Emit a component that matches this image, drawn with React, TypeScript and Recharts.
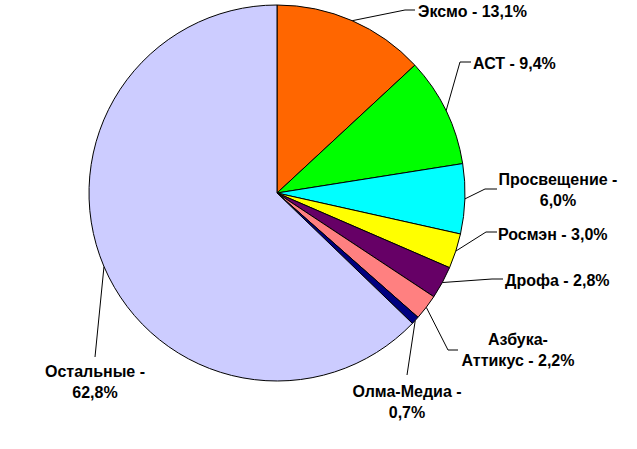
import { PieChart, Pie, Cell } from "recharts";

const publishers = [
    "Эксмо",
    "АСТ",
    "Просвещение",
    "Росмэн",
    "Дрофа",
    "Азбука-Аттикус",
    "Олма-Медиа",
    "Остальные",
];
const shares = [13.1, 9.4, 6.0, 3.0, 2.8, 2.2, 0.7, 62.8];
const labelLines = [
    ["Эксмо - 13,1%"],
    ["АСТ - 9,4%"],
    ["Просвещение -", "6,0%"],
    ["Росмэн - 3,0%"],
    ["Дрофа - 2,8%"],
    ["Азбука-", "Аттикус - 2,2%"],
    ["Олма-Медиа -", "0,7%"],
    ["Остальные -", "62,8%"],
];
const colors = [
    "#FF6600",
    "#00FF00",
    "#00FFFF",
    "#FFFF00",
    "#660066",
    "#FF8080",
    "#000080",
    "#CCCCFF",
];

// label layout: elbow point, optional horizontal end, text position
const layout: { elbow: [number, number]; end?: [number, number]; tx: number; ty: number; anchor: "start" | "middle" }[] = [
    { elbow: [405, 10], end: [415, 10], tx: 418, ty: 11, anchor: "start" },
    { elbow: [460, 62], end: [471, 62], tx: 473, ty: 63, anchor: "start" },
    { elbow: [485, 189], end: [497, 189], tx: 558, ty: 179, anchor: "middle" },
    { elbow: [486, 232], end: [497, 232], tx: 498, ty: 234, anchor: "start" },
    { elbow: [492, 279], end: [503, 279], tx: 505, ty: 280, anchor: "start" },
    { elbow: [448, 350], end: [458, 350], tx: 518, ty: 339, anchor: "middle" },
    { elbow: [407, 375], tx: 407, ty: 391, anchor: "middle" },
    { elbow: [95, 357], tx: 95, ty: 371, anchor: "middle" },
];

const data = publishers.map((name, i) => ({ name, value: shares[i] }));

const RAD = Math.PI / 180;

const renderLabel = (props: any) => {
    const { cx, cy, midAngle, outerRadius, index } = props;
    const sx = cx + outerRadius * Math.cos(-midAngle * RAD);
    const sy = cy + outerRadius * Math.sin(-midAngle * RAD);
    const l = layout[index];
    const pts = [[sx, sy], l.elbow];
    if (l.end) pts.push(l.end);
    return (
        <g key={`label-${index}`}>
            <polyline
                points={pts.map((p) => p.join(",")).join(" ")}
                fill="none"
                stroke="#000"
                strokeWidth={1}
            />
            {labelLines[index].map((t, j) => (
                <text
                    key={j}
                    x={l.tx}
                    y={l.ty + j * 21}
                    textAnchor={l.anchor}
                    dominantBaseline="central"
                    fontFamily="'Liberation Sans', Arial, sans-serif"
                    fontWeight="bold"
                    fontSize={16}
                    fill="#000"
                >
                    {t}
                </text>
            ))}
        </g>
    );
};

export default function App() {
    return (
        <div style={{ width: 637, height: 449, background: "#fff" }}>
            <style>{`body{margin:0}`}</style>
            <PieChart width={637} height={449} margin={{ top: 0, right: 0, bottom: 0, left: 0 }}>
                <Pie
                    data={data}
                    dataKey="value"
                    nameKey="name"
                    cx={277}
                    cy={193}
                    outerRadius={188}
                    startAngle={90}
                    endAngle={-270}
                    stroke="#000"
                    strokeWidth={1}
                    label={renderLabel}
                    labelLine={false}
                    isAnimationActive={false}
                >
                    {data.map((entry, index) => (
                        <Cell key={`cell-${index}`} fill={colors[index]} />
                    ))}
                </Pie>
            </PieChart>
        </div>
    );
}
